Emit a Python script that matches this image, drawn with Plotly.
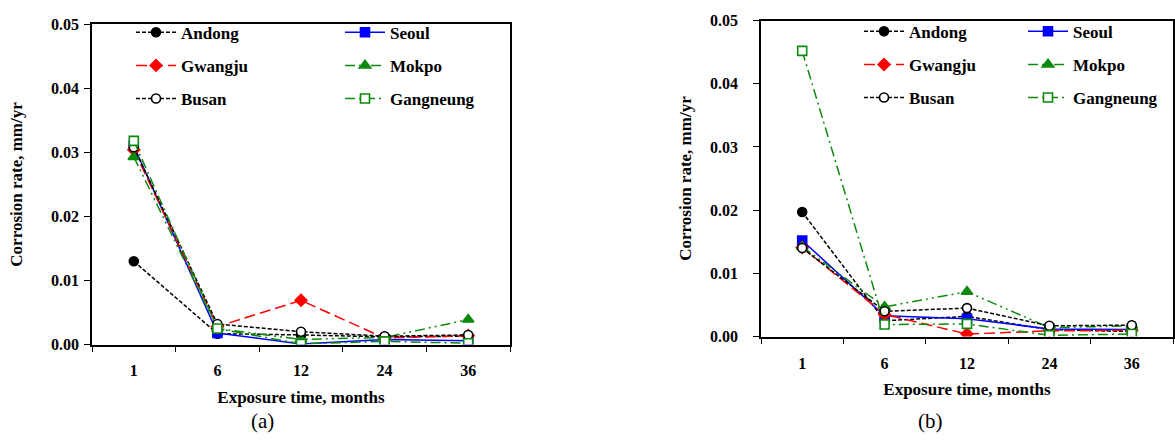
import plotly.graph_objects as go

months = ["1", "6", "12", "24", "36"]

a_andong = [0.0130, 0.0017, 0.0015, 0.0012, 0.0013]
a_seoul = [0.0310, 0.0018, 0.0001, 0.0008, 0.0006]
a_gwangju = [0.0304, 0.0028, 0.0069, 0.0010, 0.0014]
a_mokpo = [0.0293, 0.0025, 0.0008, 0.0011, 0.0039]
a_busan = [0.0308, 0.0032, 0.0020, 0.0013, 0.0015]
a_gangneung = [0.0318, 0.0025, 0.0001, 0.0005, 0.0002]

b_andong = [0.0197, 0.0025, 0.0032, 0.0011, 0.0008]
b_seoul = [0.0152, 0.0033, 0.0028, 0.0012, 0.0011]
b_gwangju = [0.0141, 0.0035, 0.0004, 0.0009, 0.0010]
b_mokpo = [0.0142, 0.0047, 0.0071, 0.0014, 0.0017]
b_busan = [0.0140, 0.0040, 0.0045, 0.0017, 0.0018]
b_gangneung = [0.0452, 0.0019, 0.0020, 0.0002, 0.0004]

W, H = 1175, 442
GREEN = "#0c8a0c"
SERIF = "Liberation Serif, Times New Roman, serif"

styles = {
    "Andong": dict(color="black", dash="4px,2px", symbol="circle", fill="black", size=9),
    "Seoul": dict(color="#0000ff", dash="solid", symbol="square", fill="#0000ff", size=9),
    "Gwangju": dict(color="#ff0000", dash="11px,5px", symbol="diamond", fill="#ff0000", size=9),
    "Mokpo": dict(color=GREEN, dash="10px,4px,2px,4px,2px,4px", symbol="triangle-up", fill=GREEN, size=10),
    "Busan": dict(color="black", dash="4px,2px", symbol="circle", fill="white", size=9),
    "Gangneung": dict(color=GREEN, dash="10px,4px,2px,4px", symbol="square", fill="white", size=9),
}

panels = [
    ("a", "x", "y", {"Andong": a_andong, "Seoul": a_seoul, "Gwangju": a_gwangju,
                     "Mokpo": a_mokpo, "Busan": a_busan, "Gangneung": a_gangneung}, ("legend", "legend2")),
    ("b", "x2", "y2", {"Andong": b_andong, "Seoul": b_seoul, "Gwangju": b_gwangju,
                       "Mokpo": b_mokpo, "Busan": b_busan, "Gangneung": b_gangneung}, ("legend3", "legend4")),
]
left_col = ["Andong", "Gwangju", "Busan"]

fig = go.Figure()
for tag, xa, ya, series, (lg_left, lg_right) in panels:
    for name in ["Andong", "Seoul", "Gwangju", "Mokpo", "Busan", "Gangneung"]:
        st = styles[name]
        fig.add_trace(go.Scatter(
            x=months, y=series[name], xaxis=xa, yaxis=ya, name=name,
            mode="lines+markers",
            line=dict(color=st["color"], dash=st["dash"], width=1.5),
            marker=dict(symbol=st["symbol"], size=st["size"], color=st["fill"],
                        line=dict(color=st["color"], width=1.6)),
            legend=lg_left if name in left_col else lg_right,
            legendgroup=tag + name,
        ))

tickfont = dict(family=SERIF, size=16, color="black", weight="bold")
titlefont = dict(family=SERIF, size=17, color="black", weight="bold")

def xaxis_cfg(domain, anchor):
    return dict(domain=domain, anchor=anchor, type="category", categoryorder="array",
                categoryarray=months, range=[-0.5, 4.5], tickson="boundaries",
                ticks="outside", ticklen=6, tickwidth=1.3, tickcolor="black",
                showline=True, linecolor="black", linewidth=1.5, mirror=True,
                showgrid=False, zeroline=False, tickfont=tickfont, ticklabelstandoff=11,
                title=dict(text="Exposure time, months", font=titlefont, standoff=13))

def yaxis_cfg(domain, anchor, lstand, tstand):
    return dict(domain=domain, anchor=anchor, range=[0, 0.05], dtick=0.01, tickformat=".2f",
                ticks="outside", ticklen=6, tickwidth=1.3, tickcolor="black",
                showline=True, linecolor="black", linewidth=1.5, mirror=True,
                showgrid=False, zeroline=False, tickfont=tickfont, ticklabelstandoff=lstand,
                title=dict(text="Corrosion rate, mm/yr", font=titlefont, standoff=tstand))

legfont = dict(family=SERIF, size=17, color="black", weight="bold")

def leg(x, y):
    return dict(x=x / W, y=1 - y / H, xanchor="left", yanchor="top", orientation="v",
                font=legfont, bgcolor="rgba(0,0,0,0)", tracegroupgap=8, itemwidth=40)

fig.update_layout(
    width=W, height=H, margin=dict(l=0, r=0, t=0, b=0),
    paper_bgcolor="white", plot_bgcolor="white",
    xaxis=xaxis_cfg([92 / W, 510 / W], "y"),
    yaxis=yaxis_cfg([1 - 350 / H, 1 - 17 / H], "x", 2, 24),
    xaxis2=xaxis_cfg([761 / W, 1173 / W], "y2"),
    yaxis2=yaxis_cfg([1 - 341.7 / H, 1 - 13 / H], "x2", 12, 14),
    legend=leg(131, 7), legend2=leg(340, 7),
    legend3=leg(859, 6), legend4=leg(1023, 6),
    annotations=[
        dict(text="(a)", x=262 / W, y=1 - 429 / H, xref="paper", yref="paper",
             xanchor="center", yanchor="middle",
             showarrow=False, font=dict(family=SERIF, size=21, color="black")),
        dict(text="(b)", x=930 / W, y=1 - 429 / H, xref="paper", yref="paper",
             xanchor="center", yanchor="middle",
             showarrow=False, font=dict(family=SERIF, size=21, color="black")),
    ],
)

fig.write_html("out.html")
